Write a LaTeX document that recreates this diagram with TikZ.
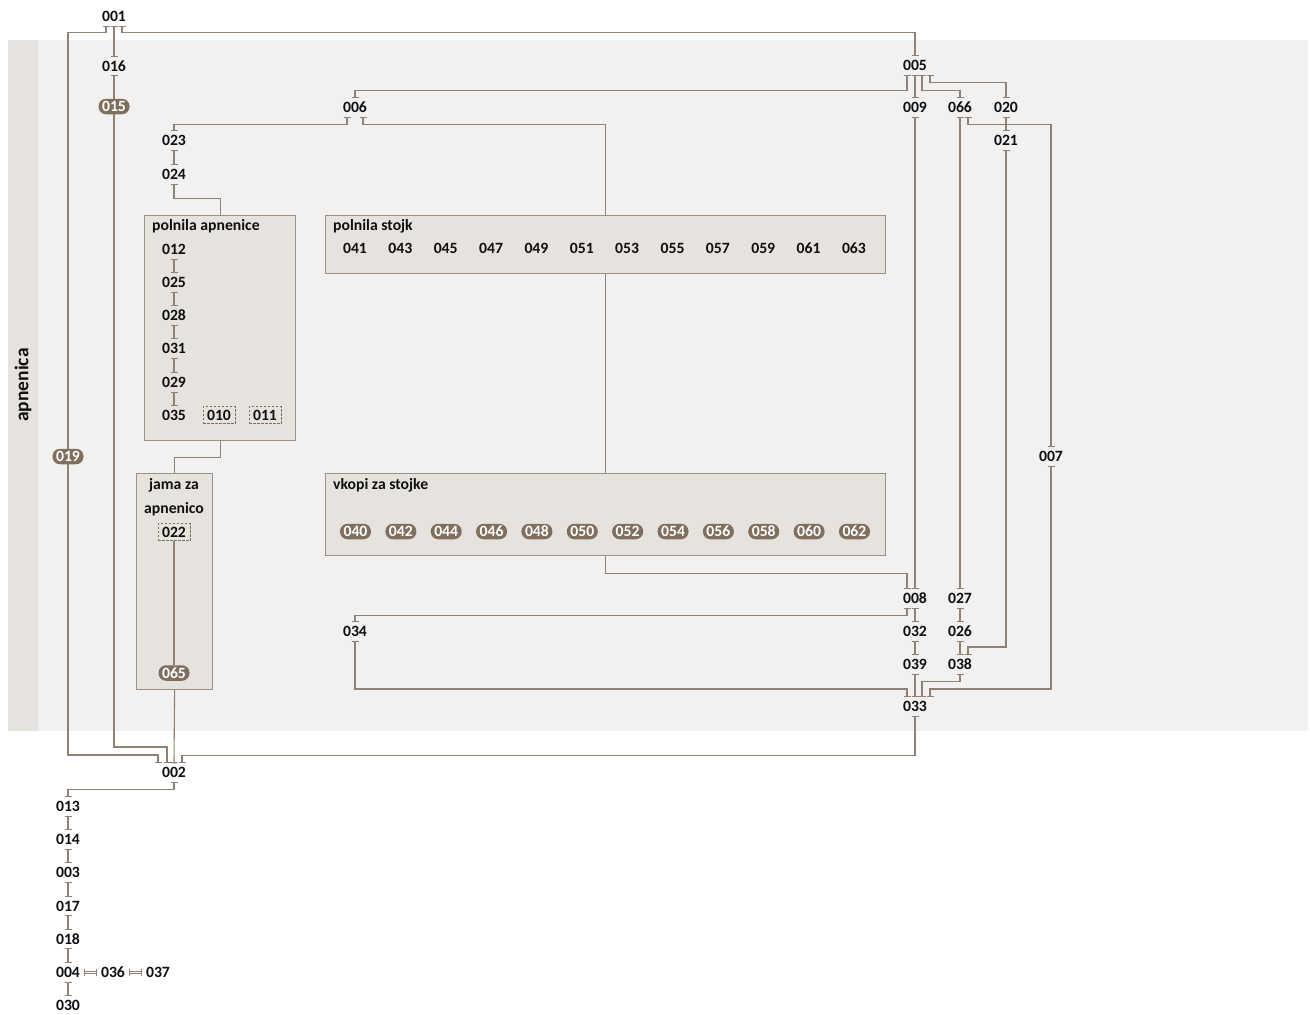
\documentclass[tikz,border=0pt]{standalone}
\usepackage{fontspec}
\setmainfont{Carlito}
\usetikzlibrary{arrows.meta}
\definecolor{bgcol}{RGB}{242,241,239}
\definecolor{bandcol}{RGB}{230,227,223}
\definecolor{boxfill}{RGB}{230,227,223}
\definecolor{boxline}{RGB}{158,145,132}
\definecolor{linecol}{RGB}{143,129,115}
\definecolor{ovalcol}{RGB}{128,111,95}
\definecolor{txtcol}{RGB}{15,15,15}
\tikzset{
  lab/.style={font=\bfseries\fontsize{15.7}{18}\selectfont, text=txtcol, inner xsep=4pt, inner ysep=0pt, minimum height=18pt},
  oval/.style={font=\bfseries\fontsize{15.7}{18}\selectfont, text=white, fill=ovalcol, rounded corners=7.5pt, inner sep=0pt, minimum width=31pt, minimum height=15.5pt},
  dbox/.style={font=\bfseries\fontsize{15.7}{18}\selectfont, text=txtcol, draw=ovalcol, dash pattern=on 2.5pt off 1.5pt, line width=0.9pt, inner sep=0pt, minimum width=32pt, minimum height=17pt},
  grp/.style={draw=boxline, fill=boxfill, line width=1.2pt, inner sep=0pt, anchor=north west},
  ttl/.style={font=\bfseries\fontsize{15.7}{18}\selectfont, text=txtcol, inner sep=0pt},
  conn/.style={draw=linecol, line width=1.1pt},
  cc/.style={conn, {Bar[width=7pt]}-{Bar[width=7pt]}},
  cs/.style={conn, {Bar[width=7pt]}-},
  ce/.style={conn, -{Bar[width=7pt]}},
  cn/.style={conn},
  eqline/.style={draw=linecol, line width=0.9pt, double=white, double distance=1.6pt},
}
\begin{document}
\begin{tikzpicture}[x=1pt,y=-1pt]
\useasboundingbox (0,0) rectangle (1310,1015);
% background
\fill[bgcol] (8,40) rectangle (1308,731);
\fill[bandcol] (8,40) rectangle (38,731);
\node[rotate=90, font=\bfseries\fontsize{19.5}{22}\selectfont, text=txtcol, inner sep=0pt] (band) at (23,385) {apnenica};

% group boxes
\node[grp, minimum width=151pt, minimum height=225pt] (apn) at (144,215) {};
\node[ttl, anchor=west] (tapn) at (152,226.5) {polnila apnenice};
\node[grp, minimum width=560pt, minimum height=58pt] (stojk) at (325,215) {};
\node[ttl, anchor=west] (tstojk) at (333,226.5) {polnila stojk};
\node[grp, minimum width=76pt, minimum height=216pt] (jama) at (136,473) {};
\node[ttl] (tjama1) at (174,485) {jama za};
\node[ttl] (tjama2) at (174,509.5) {apnenico};
\node[grp, minimum width=560pt, minimum height=82pt] (vkopi) at (325,473) {};
\node[ttl, anchor=west] (tvkopi) at (333,485) {vkopi za stojke};

% nodes
\node[lab] (n001) at (114,16.5) {001};
\node[lab] (n016) at (114,66) {016};
\node[oval] (n015) at (114,106.5) {015};
\node[oval] (n019) at (68,456.5) {019};
\node[lab] (n005) at (915,65.5) {005};
\node[lab] (n006) at (355,107.5) {006};
\node[lab] (n009) at (915,107.5) {009};
\node[lab] (n066) at (960,107.5) {066};
\node[lab] (n020) at (1006,107.5) {020};
\node[lab] (n021) at (1006,140.5) {021};
\node[lab] (n023) at (174,140.5) {023};
\node[lab] (n024) at (174,174.5) {024};
\node[lab] (n012) at (174,249.5) {012};
\node[lab] (n025) at (174,282.5) {025};
\node[lab] (n028) at (174,315.5) {028};
\node[lab] (n031) at (174,348.5) {031};
\node[lab] (n029) at (174,382.5) {029};
\node[lab] (n035) at (174,415) {035};
\node[dbox] (n010) at (219,415) {010};
\node[dbox] (n011) at (265,415) {011};
\node[dbox] (n022) at (174,532) {022};
\node[oval] (n065) at (174,673) {065};
\foreach \n [count=\i from 0] in {041,043,045,047,049,051,053,055,057,059,061,063}
  \node[lab] (s\n) at (355+45.36*\i,248.5) {\n};
\foreach \n [count=\i from 0] in {040,042,044,046,048,050,052,054,056,058,060,062}
  \node[oval] (v\n) at (355.5+45.36*\i,531.5) {\n};
\node[lab] (n007) at (1051,456.5) {007};
\node[lab] (n008) at (915,598.5) {008};
\node[lab] (n027) at (960,598.5) {027};
\node[lab] (n034) at (355,631.5) {034};
\node[lab] (n032) at (915,631.5) {032};
\node[lab] (n026) at (960,631.5) {026};
\node[lab] (n039) at (915,664.5) {039};
\node[lab] (n038) at (960,664.5) {038};
\node[lab] (n033) at (915,706.5) {033};
\node[lab] (n002) at (174,772.5) {002};
\node[lab] (n013) at (68,806.5) {013};
\node[lab] (n014) at (68,839.5) {014};
\node[lab] (n003) at (68,872.5) {003};
\node[lab] (n017) at (68,906) {017};
\node[lab] (n018) at (68,939) {018};
\node[lab] (n004) at (68,972.5) {004};
\node[lab] (n036) at (113,972.5) {036};
\node[lab] (n037) at (158,972.5) {037};
\node[lab] (n030) at (68,1005) {030};

% connectors from 001
\draw[cs] ([xshift=-8pt]n001.south) -- ++(0,7) -| (n019.north);
\draw[cc] (n001.south) -- (n016.north);
\draw[cc] ([xshift=8pt]n001.south) -- ++(0,7) -| (n005.north);
\draw[cs] (n016.south) -- (n015.north);
\draw[ce] (n015.south) |- (140,747) -| ([xshift=-7pt]n002.north);
\draw[ce] (n019.south) |- (120,755) -| ([xshift=-16pt]n002.north);
\draw[ce] (jama.south) -- (n002.north);
\draw[cc] (n033.south) -- ++(0,40) -| ([xshift=8pt]n002.north);

% from 005
\draw[cc] ([xshift=-8pt]n005.south) -- ++(0,16) -| (n006.north);
\draw[cc] (n005.south) -- (n009.north);
\draw[cc] ([xshift=7pt]n005.south) -- ++(0,16) -| (n066.north);
\draw[cc] ([xshift=15pt]n005.south) -- ++(0,8) -| (n020.north);
\draw[cc] (n020.south) -- (n021.north);
\draw[cc] ([xshift=8pt]n066.south) -- ++(0,8) -| (n007.north);
\draw[cc] (n066.south) -- (n027.north);
\draw[cc] (n009.south) -- (n008.north);
\draw[cc] (n021.south) |- (990,647) -| ([xshift=8pt]n038.north);

% from 006
\draw[cc] ([xshift=-8pt]n006.south) -- ++(0,8) -| (n023.north);
\draw[cs] ([xshift=8pt]n006.south) -- ++(0,8) -| (stojk.north);
\draw[cn] (stojk.south) -- (vkopi.north);
\draw[ce] (vkopi.south) -- ++(0,17) -| ([xshift=-8pt]n008.north);

% lower right
\draw[cc] ([xshift=-8pt]n008.south) -- ++(0,8) -| (n034.north);
\draw[cc] (n008.south) -- (n032.north);
\draw[cc] (n032.south) -- (n039.north);
\draw[cc] (n039.south) -- (n033.north);
\draw[cc] (n034.south) |- (600,689) -| ([xshift=-8pt]n033.north);
\draw[cc] (n038.south) -- ++(0,8) -| ([xshift=7pt]n033.north);
\draw[cc] (n007.south) |- (1000,689) -| ([xshift=15pt]n033.north);
\draw[cc] (n027.south) -- (n026.north);
\draw[cc] (n026.south) -- (n038.north);

% left column
\draw[cc] (n023.south) -- (n024.north);
\draw[cs] (n024.south) -- ++(0,15) -| (apn.north);
\draw[cc] (n012.south) -- (n025.north);
\draw[cc] (n025.south) -- (n028.north);
\draw[cc] (n028.south) -- (n031.north);
\draw[cc] (n031.south) -- (n029.north);
\draw[cc] (n029.south) -- (n035.north);
\draw[cn] (apn.south) -- ++(0,16) -| (jama.north);
\draw[cn] (n022.south) -- (n065.north);

% bottom chain
\draw[cc] (n002.south) -- ++(0,8) -| (n013.north);
\draw[cc] (n013.south) -- (n014.north);
\draw[cc] (n014.south) -- (n003.north);
\draw[cc] (n003.south) -- (n017.north);
\draw[cc] (n017.south) -- (n018.north);
\draw[cc] (n018.south) -- (n004.north);
\draw[cc] (n004.south) -- (n030.north);
\draw[eqline] (n004.east) -- (n036.west);
\draw[eqline] (n036.east) -- (n037.west);
\draw[conn] (n004.east) ++(0,-3.5) -- ++(0,7);
\draw[conn] (n036.west) ++(0,-3.5) -- ++(0,7);
\draw[conn] (n036.east) ++(0,-3.5) -- ++(0,7);
\draw[conn] (n037.west) ++(0,-3.5) -- ++(0,7);
\end{tikzpicture}
\end{document}
